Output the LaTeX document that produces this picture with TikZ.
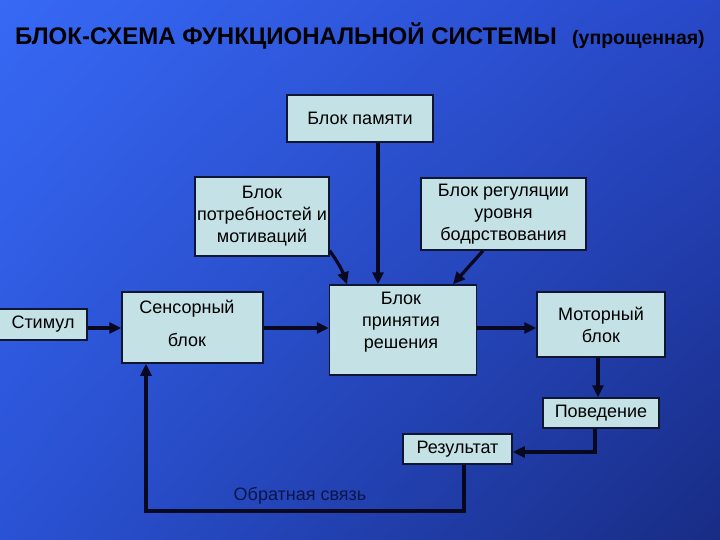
\documentclass[tikz,border=0pt]{standalone}
\usepackage{fontspec}
\setmainfont{Liberation Sans}
\usetikzlibrary{arrows.meta,shadings}
\definecolor{bgUL}{RGB}{55,105,245}
\definecolor{bgUR}{RGB}{40,72,200}
\definecolor{bgLL}{RGB}{42,82,212}
\definecolor{bgLR}{RGB}{24,44,132}
\definecolor{boxfill}{RGB}{196,226,230}
\definecolor{boxline}{RGB}{16,22,48}
\definecolor{lineclr}{RGB}{8,8,32}
\definecolor{fbtext}{RGB}{12,20,72}
\tikzset{
  blk/.style={draw=boxline, line width=1.5pt, fill=boxfill, inner sep=0pt, text=black,
    font=\fontsize{18}{22}\selectfont, align=center},
  lbl/.style={inner sep=0pt, text=black, font=\fontsize{18}{22}\selectfont, align=center},
  arr/.style={draw=lineclr, line width=3.2pt, -{Triangle[length=12pt,width=11pt]}},
}
\begin{document}
\begin{tikzpicture}[x=1pt,y=-1pt]
\useasboundingbox (0,0) rectangle (720,540);
\shade[upper left=bgUL, upper right=bgUR, lower left=bgLL, lower right=bgLR] (0,0) rectangle (720,540);

% title
\node[anchor=base west, inner sep=0pt, font=\bfseries\fontsize{24}{27}\selectfont] (title) at (15,45) {БЛОК-СХЕМА ФУНКЦИОНАЛЬНОЙ СИСТЕМЫ};
\node[anchor=base west, inner sep=0pt, font=\bfseries\fontsize{19.5}{24}\selectfont] (subt) at (572,45) {(упрощенная)};

% boxes
\node[blk, minimum width=146pt, minimum height=47pt] (mem) at (360,118.5) {Блок памяти};
\node[blk, minimum width=134pt, minimum height=79pt] (need) at (262,216.5) {Блок\\потребностей и\\мотиваций};
\node[blk, minimum width=165pt, minimum height=72pt] (reg) at (503.5,214) {Блок регуляции\\уровня\\бодрствования};
\node[blk, minimum width=88pt, minimum height=31pt] (stim) at (43,324.5) {Стимул};
\node[blk, minimum width=141pt, minimum height=71pt] (sens) at (192.5,327.5) {};
\node[lbl] (senst) at (187,323.5) {Сенсорный\\[11pt]блок};
\node[blk, minimum width=147pt, minimum height=90pt] (dec) at (403,330) {};
\node[lbl] (dect) at (401,322) {Блок\\принятия\\решения};
\node[blk, minimum width=128pt, minimum height=65pt] (mot) at (601,324.5) {Моторный\\блок};
\node[blk, minimum width=116pt, minimum height=30pt] (beh) at (601,413) {Поведение};
\node[blk, minimum width=109pt, minimum height=30pt] (res) at (457.5,449) {Результат};

\node[lbl, text=fbtext] (fbt) at (300,496) {Обратная связь};

% connectors
\coordinate (row) at (0,328);
\coordinate (fbl) at (146,511);
\draw[arr] ([xshift=18pt]mem.south) -- ([xshift=18pt]mem.south |- dec.north);
\draw[arr] ([yshift=6pt]need.south east) to[bend left=8] ([xshift=-56pt]dec.north);
\draw[arr] ([xshift=-20.5pt]reg.south) -- ([xshift=50pt]dec.north);
\draw[arr] (stim.east |- row) -- (sens.west |- row);
\draw[arr] (sens.east |- row) -- (dec.west |- row);
\draw[arr] (dec.east |- row) -- (mot.west |- row);
\draw[arr] ([xshift=-3pt]mot.south) -- ([xshift=-3pt]beh.north);
\draw[arr] ([xshift=-6pt]beh.south) |- ([yshift=-3pt]res.east);
\draw[arr] ([xshift=6.5pt]res.south) |- (fbl) -- (fbl |- sens.south);
\end{tikzpicture}
\end{document}
